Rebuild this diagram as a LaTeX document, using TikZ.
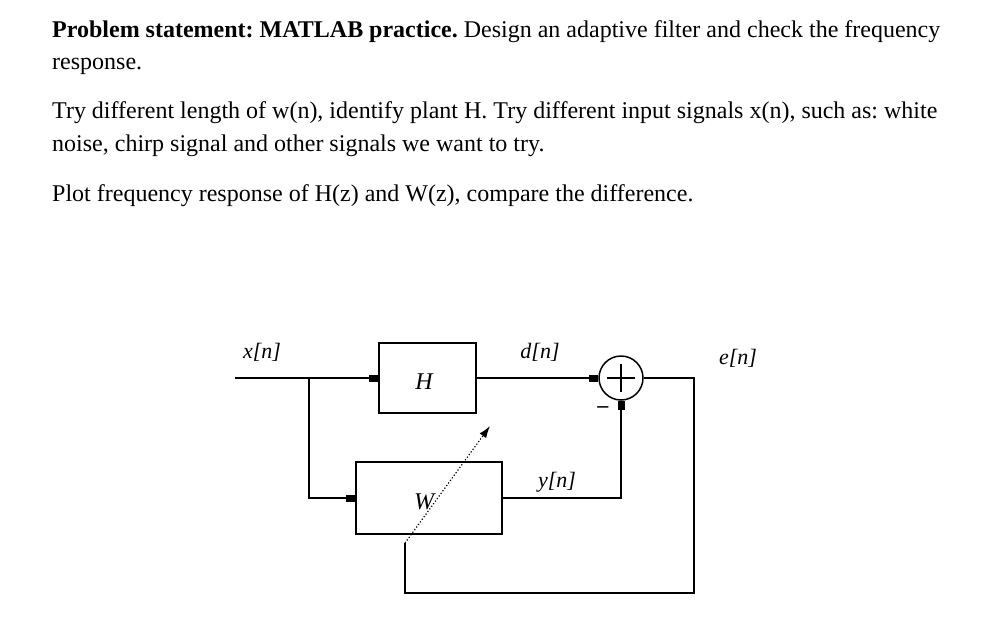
\documentclass[tikz,border=0pt]{standalone}
\usepackage{fontspec}
\setmainfont{Liberation Serif}
\usetikzlibrary{arrows.meta}
\begin{document}
\frenchspacing
\begin{tikzpicture}[x=1pt,y=-1pt,
  ln/.style={line width=1.5pt},
  blk/.style={draw,line width=1.5pt,minimum width=#1,inner sep=0pt},
  arr/.style={ln,-{Rectangle[length=9pt,width=7pt]}},
  lab/.style={font=\fontsize{22}{22}\selectfont\itshape},
  txt/.style={anchor=base west,inner sep=0pt,font=\fontsize{24}{24}\selectfont}]
\useasboundingbox (0,0) rectangle (1008,632);
\node[txt] (t1) at (52,37) {\textbf{Problem statement: MATLAB practice.} Design an adaptive filter and check the frequency};
\node[txt] (t2) at (52,69) {response.};
\node[txt] (t3) at (52,118) {Try different length of w(n), identify plant H. Try different input signals x(n), such as: white};
\node[txt] (t4) at (52,151) {noise, chirp signal and other signals we want to try.};
\node[txt] (t5) at (52,201) {Plot frequency response of H(z) and W(z), compare the difference.};
% blocks
\node[blk=97pt,minimum height=70pt] (H) at (427.5,378) {};
\node[lab,font=\fontsize{24}{24}\selectfont\itshape] (Hl) at (424,382) {H};
\node[blk=146pt,minimum height=72pt] (W) at (429,498) {};
\node[lab,font=\fontsize{24}{24}\selectfont\itshape] (Wl) at (424,502) {W};
\node[draw,circle,line width=1.5pt,minimum size=44pt,inner sep=0pt] (S) at (621,378) {};
\draw[ln] (607,378) -- (635,378) (621,364) -- (621,392);
\node[font=\fontsize{22}{22}\selectfont] (minus) at (603,410) {\textbf{--}};
\coordinate (in) at (235,378);
\coordinate (br) at (309,378);
\draw[ln] (in) -- (br);
\draw[arr] (br) -- (H.west);
\draw[arr] (br) |- (W.west);
\draw[arr] (H.east) -- (S.west);
\draw[arr] (W.east) -| (S.south);
\coordinate (c1) at (694,378);
\coordinate (c2) at (405,593);
\coordinate (c3) at (405,543);
\coordinate (tip) at (490,426);
\draw[ln] (S.east) -- (c1) |- (c2) -- (c3);
\draw[line width=1.2pt,dotted,-{Latex[length=12pt,width=8pt]}] (c3) -- (tip);
% labels
\node[lab] (xl) at (262,352) {x[n]};
\node[lab] (dl) at (540,352) {d[n]};
\node[lab] (el) at (738,358) {e[n]};
\node[lab] (yl) at (557,482) {y[n]};
\end{tikzpicture}
\end{document}
